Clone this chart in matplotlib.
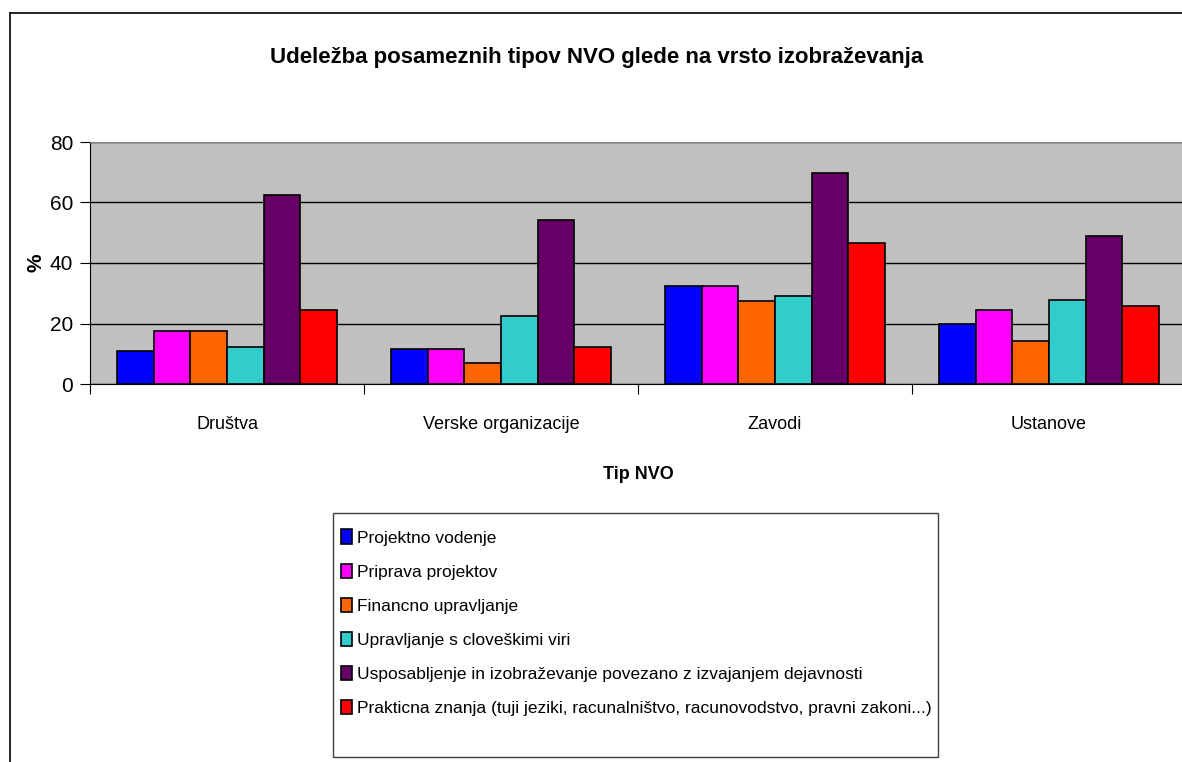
import matplotlib
matplotlib.use("Agg")
import matplotlib.pyplot as plt
from matplotlib import font_manager
from matplotlib.patches import Rectangle
import numpy as np

categories = ["Društva", "Verske organizacije", "Zavodi", "Ustanove"]
series_names = [
    "Projektno vodenje",
    "Priprava projektov",
    "Financno upravljanje",
    "Upravljanje s cloveškimi viri",
    "Usposabljenje in izobraževanje povezano z izvajanjem dejavnosti",
    "Prakticna znanja (tuji jeziki, racunalništvo, racunovodstvo, pravni zakoni...)",
]
projektno_vodenje = [11.0, 11.6, 32.3, 20.0]
priprava_projektov = [17.4, 11.6, 32.3, 24.5]
financno_upravljanje = [17.4, 7.1, 27.6, 14.2]
cloveski_viri = [12.3, 22.6, 29.0, 27.7]
usposabljanje = [62.6, 54.3, 69.8, 49.0]
prakticna_znanja = [24.5, 12.1, 46.5, 25.8]
colors = ["#0000FF", "#FF00FF", "#FF6600", "#33CCCC", "#660066", "#FF0000"]
yticks = [0, 20, 40, 60, 80]

values = [projektno_vodenje, priprava_projektov, financno_upravljanje,
          cloveski_viri, usposabljanje, prakticna_znanja]

names = {f.name for f in font_manager.fontManager.ttflist}
font = "Liberation Sans Narrow" if "Liberation Sans Narrow" in names else "Liberation Sans"
plt.rcParams["font.family"] = [font, "DejaVu Sans"]

W, H = 1182, 762
fig = plt.figure(figsize=(W / 100, H / 100), dpi=100)
# outer chart border
fig.add_artist(plt.Line2D([10 / W, 10 / W], [0, 1 - 13 / H], color="black", lw=1.2))
fig.add_artist(plt.Line2D([10 / W, 1], [1 - 13 / H, 1 - 13 / H], color="black", lw=1.2))

ax = fig.add_axes([90 / W, 1 - 384 / H, 1096 / W, 242 / H])
ax.set_facecolor("#C0C0C0")

x = np.arange(len(categories))
w = 1 / 7.5
for i, (vals, name, c) in enumerate(zip(values, series_names, colors)):
    ax.bar(x + (i - 2.5) * w, vals, w, color=c, edgecolor="black", linewidth=1.2,
           label=name, zorder=3)

ax.set_xlim(-0.5, len(categories) - 0.5)
ax.set_ylim(0, 80)
ax.set_yticks(yticks)
ax.set_yticklabels([str(t) for t in yticks], fontsize=15)
ax.yaxis.grid(True, color="black", linewidth=1, zorder=1)
ax.set_axisbelow(True)
ax.set_xticks(np.arange(-0.5, len(categories), 1.0), minor=False)
ax.set_xticklabels([])
ax.set_xticks(x, minor=True)
ax.set_xticklabels(categories, minor=True, fontsize=13)
ax.tick_params(axis="x", which="minor", length=0, pad=23)
ax.tick_params(axis="x", which="major", length=7, direction="out")
ax.tick_params(axis="y", length=7, direction="out", pad=5)
for s in ["top", "right"]:
    ax.spines[s].set_color("#808080")
ax.spines["left"].set_color("black")
ax.spines["bottom"].set_color("black")

ax.set_ylabel("%", fontsize=15, fontweight="bold", labelpad=3)
ax.set_xlabel("Tip NVO", fontsize=13, fontweight="bold", labelpad=24)

fig.text(597 / W, 1 - 58 / H, "Udeležba posameznih tipov NVO glede na vrsto izobraževanja",
         ha="center", va="center", fontsize=16, fontweight="bold")

# legend box
fig.add_artist(Rectangle((333 / W, 1 - 757 / H), 605 / W, 244 / H, transform=fig.transFigure,
                         facecolor="white", edgecolor="#404040", linewidth=1, zorder=0))
leg = fig.legend(loc="upper left", bbox_to_anchor=(338 / W, 1 - 526 / H),
                 fontsize=12.5, frameon=False,
                 handlelength=0.6, handleheight=0.9, handletextpad=0.3,
                 labelspacing=1.03, borderpad=0.2, borderaxespad=0)

fig.savefig("out.png", dpi=100)
